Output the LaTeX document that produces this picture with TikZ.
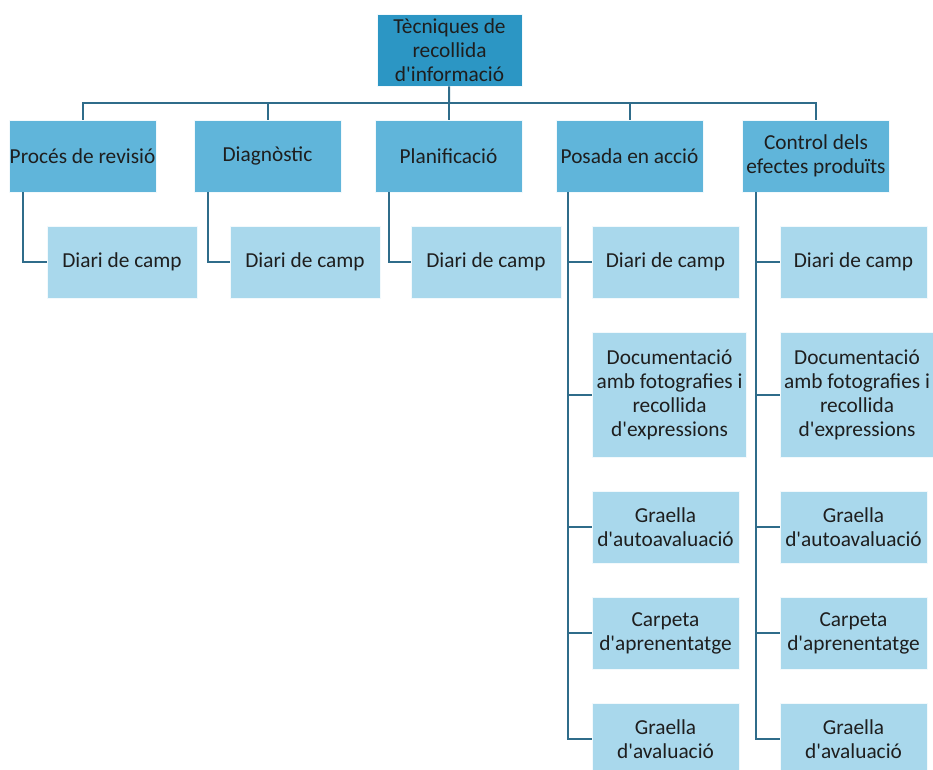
\documentclass[tikz,border=0pt]{standalone}
\usepackage{fontspec}
\setmainfont{Carlito}
\usetikzlibrary{positioning}
\definecolor{rootblue}{RGB}{44, 150, 196}
\definecolor{stageblue}{RGB}{96, 181, 218}
\definecolor{toolblue}{RGB}{169, 216, 236}
\definecolor{linkteal}{RGB}{47, 108, 138}
\definecolor{inkgray}{RGB}{30, 30, 30}
\newcommand{\sq}{\textquotesingle}
\tikzset{
  box/.style={draw=white!85!toolblue, line width=0.6pt, inner sep=0pt, align=center,
    text=inkgray, font=\fontsize{16}{18}\selectfont, minimum height=54pt},
  rootbox/.style={box, fill=rootblue, minimum width=108.75pt},
  stagebox/.style={box, fill=stageblue, minimum width=110.25pt},
  toolbox/.style={box, fill=toolblue, minimum width=112.5pt},
  narrowtool/.style={box, fill=toolblue, minimum width=110.25pt},
  widetool/.style={box, fill=toolblue, minimum width=115.5pt, minimum height=93.75pt},
  link/.style={draw=linkteal, line width=1.5pt}
}

\begin{document}
\begin{tikzpicture}[x=0.75pt, y=-0.75pt]
  \useasboundingbox (0,0) rectangle (933,769);

  % Root
  \node[rootbox] (root) at (449.5, 50) {T\`ecniques de\\recollida\\d\sq informaci\'o};
  \coordinate (bus) at (449, 103);

  % Stages
  \node[stagebox] (rev)  at (82.5, 156)  {Proc\'es de revisi\'o};
  \node[stagebox] (diag) at (267.5, 156) {Diagn\`ostic};
  \node[stagebox] (plan) at (448.5, 156) {Planificaci\'o};
  \node[stagebox] (acc)  at (629.5, 156) {Posada en acci\'o};
  \node[stagebox] (ctrl) at (816, 156)   {Control dels\\efectes produ\"its};

  \draw[link] (root) -- (bus);
  \foreach \s in {rev, diag, plan, acc, ctrl}
    \draw[link] (bus) -| (\s.north);

  % Diari de camp under the first three stages
  \node[toolbox] (revdiari)  at (122, 262) {Diari de camp};
  \node[toolbox] (diagdiari) at (305, 262) {Diari de camp};
  \node[toolbox] (plandiari) at (486, 262) {Diari de camp};

  \draw[link] ([xshift=10.5pt]rev.south west) |- (revdiari.west);
  \draw[link] ([xshift=10.5pt]diag.south west) |- (diagdiari.west);
  \draw[link] ([xshift=10.5pt]plan.south west) |- (plandiari.west);

  % Posada en acció
  \node[narrowtool] (accdiari) at (665.5, 262) {Diari de camp};
  \node[widetool]   (accdoc)   at (669.5, 394.5) {Documentaci\'o\\amb fotografies i\\recollida\\d\sq expressions};
  \node[narrowtool] (accauto)  at (665.5, 527) {Graella\\d\sq autoavaluaci\'o};
  \node[narrowtool] (accapr)   at (665.5, 633) {Carpeta\\d\sq aprenentatge};
  \node[narrowtool] (accaval)  at (665.5, 739) {Graella\\d\sq avaluaci\'o};

  \foreach \t in {accdiari, accdoc, accauto, accapr, accaval}
    \draw[link] ([xshift=9pt]acc.south west) |- (\t.west);

  % Control dels efectes produïts
  \node[narrowtool] (ctrldiari) at (853.5, 262) {Diari de camp};
  \node[widetool]   (ctrldoc)   at (857, 394.5) {Documentaci\'o\\amb fotografies i\\recollida\\d\sq expressions};
  \node[narrowtool] (ctrlauto)  at (853.5, 527) {Graella\\d\sq autoavaluaci\'o};
  \node[narrowtool] (ctrlapr)   at (853.5, 633) {Carpeta\\d\sq aprenentatge};
  \node[narrowtool] (ctrlaval)  at (853.5, 739) {Graella\\d\sq avaluaci\'o};

  \foreach \t in {ctrldiari, ctrldoc, ctrlauto, ctrlapr, ctrlaval}
    \draw[link] ([xshift=10.5pt]ctrl.south west) |- (\t.west);
\end{tikzpicture}
\end{document}
